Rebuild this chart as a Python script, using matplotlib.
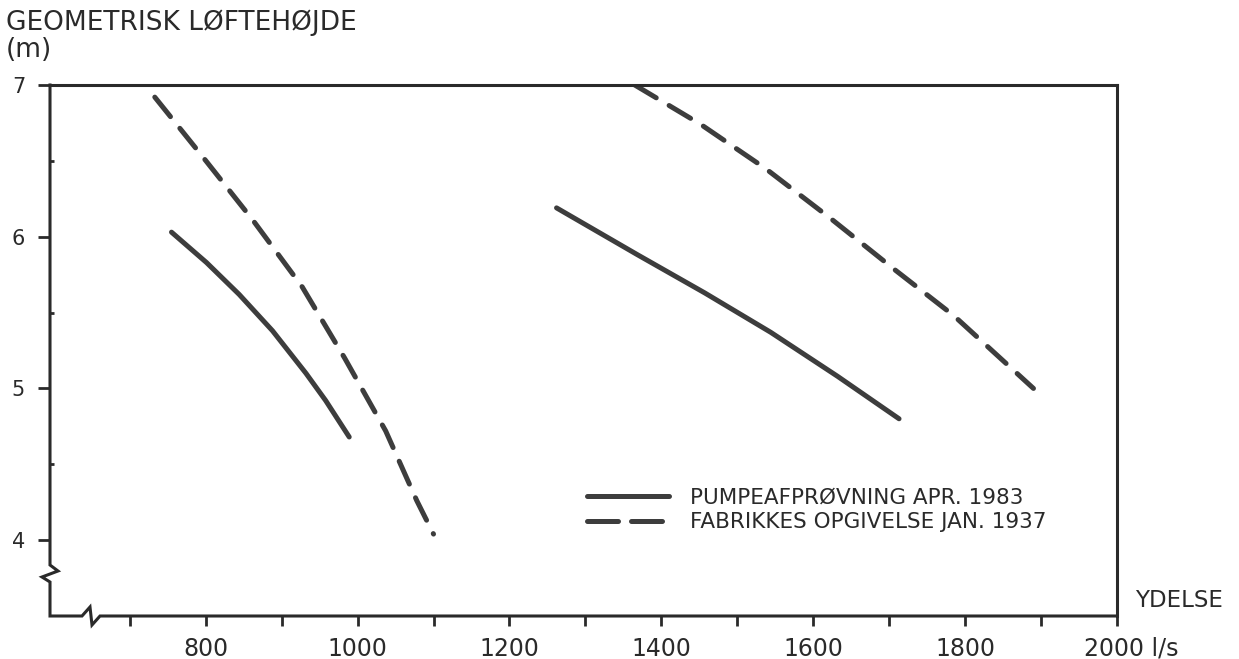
import numpy as np
import matplotlib.pyplot as plt

# pump curves (flow l/s, lift m)
pump_lo_x = [755, 801, 844, 888, 932, 958, 989]
pump_lo_y = [6.03, 5.83, 5.62, 5.38, 5.10, 4.92, 4.68]
pump_hi_x = [1262, 1369, 1457, 1544, 1632, 1713]
pump_hi_y = [6.19, 5.88, 5.63, 5.37, 5.08, 4.80]

fab_lo_x = [733, 794, 862, 927, 983, 1037, 1078, 1100]
fab_lo_y = [6.92, 6.54, 6.11, 5.67, 5.20, 4.72, 4.26, 4.04]
fab_hi_x = [1365, 1452, 1537, 1623, 1708, 1785, 1890]
fab_hi_y = [7.00, 6.74, 6.45, 6.12, 5.78, 5.48, 5.00]

label_pump = 'PUMPEAFPRØVNING APR. 1983'
label_fab = 'FABRIKKES OPGIVELSE JAN. 1937'

x_ticks = list(range(700, 2001, 100))
x_ticklabels = ['' if t % 200 else str(t) for t in x_ticks]
x_ticklabels[-1] = ''   # last one is written together with the unit below
y_ticks = [4, 5, 6, 7]

INK = '#2a2a2a'
LINE = '#3d3d3d'

fig = plt.figure(figsize=(12.39, 6.59), dpi=100)
W, H = 1067, 531
ax = fig.add_axes([50 / 1239, 43 / 659, W / 1239, H / 659])
ax.set_xlim(595, 2000)
ax.set_ylim(3.5, 7)

lw = 3.6
ax.plot(pump_lo_x, pump_lo_y, color=LINE, lw=lw, solid_capstyle='round',
        solid_joinstyle='round', label=label_pump)
ax.plot(pump_hi_x, pump_hi_y, color=LINE, lw=lw, solid_capstyle='round',
        solid_joinstyle='round')
ax.plot(fab_lo_x, fab_lo_y, color=LINE, lw=lw, dashes=(5.0, 3.0),
        dash_capstyle='round', label=label_fab)
ax.plot(fab_hi_x, fab_hi_y, color=LINE, lw=lw, dashes=(5.0, 3.0), dash_capstyle='round')

# frame: top and right as spines, left and bottom drawn by hand with breaks
for s in ['left', 'bottom']:
    ax.spines[s].set_visible(False)
for s in ['top', 'right']:
    ax.spines[s].set_linewidth(2.2)
    ax.spines[s].set_color(INK)

yz = 51 / H
xz = 32 / W
fx = [0, 0, 8 / W, -8 / W, 0, 0, xz, xz + 8 / W, xz + 10 / W, xz + 18 / W, 1]
fy = [1, yz, yz - 6 / H, yz - 12 / H, yz - 17 / H, 0, 0, 9 / H, -9 / H, 0, 0]
ax.plot(fx, fy, transform=ax.transAxes, clip_on=False, color=INK, lw=2.2,
        solid_joinstyle='miter')

ax.set_xticks(x_ticks)
ax.set_xticklabels(x_ticklabels)
ax.set_yticks(y_ticks)
ax.set_yticklabels([str(t) for t in y_ticks])
ax.set_yticks([4.5, 5.5, 6.5], minor=True)
ax.tick_params(axis='x', direction='out', length=7, width=2, pad=8,
               labelsize=17, color=INK, labelcolor=INK)
ax.tick_params(axis='y', which='major', direction='out', length=9, width=2,
               pad=9, labelsize=15, color=INK, labelcolor=INK)
ax.tick_params(axis='y', which='minor', direction='in', length=3, width=2, color=INK)

ax.annotate('2000 l/s', xy=(1, 0), xycoords='axes fraction', xytext=(-24, -15),
            textcoords='offset points', ha='left', va='top', fontsize=17, color=INK)
ax.annotate('YDELSE', xy=(1, 0), xycoords='axes fraction', xytext=(13, 3),
            textcoords='offset points', ha='left', va='bottom', fontsize=16.5, color=INK)

fig.text(6 / 1239, 1 - 9 / 659, 'GEOMETRISK LØFTEHØJDE\n(m)', ha='left', va='top',
         fontsize=19, linespacing=1.05, color=INK)

leg = ax.legend(loc='center left', bbox_to_anchor=(0.503, 0.2), frameon=False,
                fontsize=15.5, handlelength=3.8, handletextpad=1.0, labelspacing=0.25,
                borderpad=0, borderaxespad=0, labelcolor=INK)
# the key shows the dashed line as two long dashes
leg.get_lines()[1].set_dashes((6.2, 2.6))

fig.savefig('out.png', dpi=100)
